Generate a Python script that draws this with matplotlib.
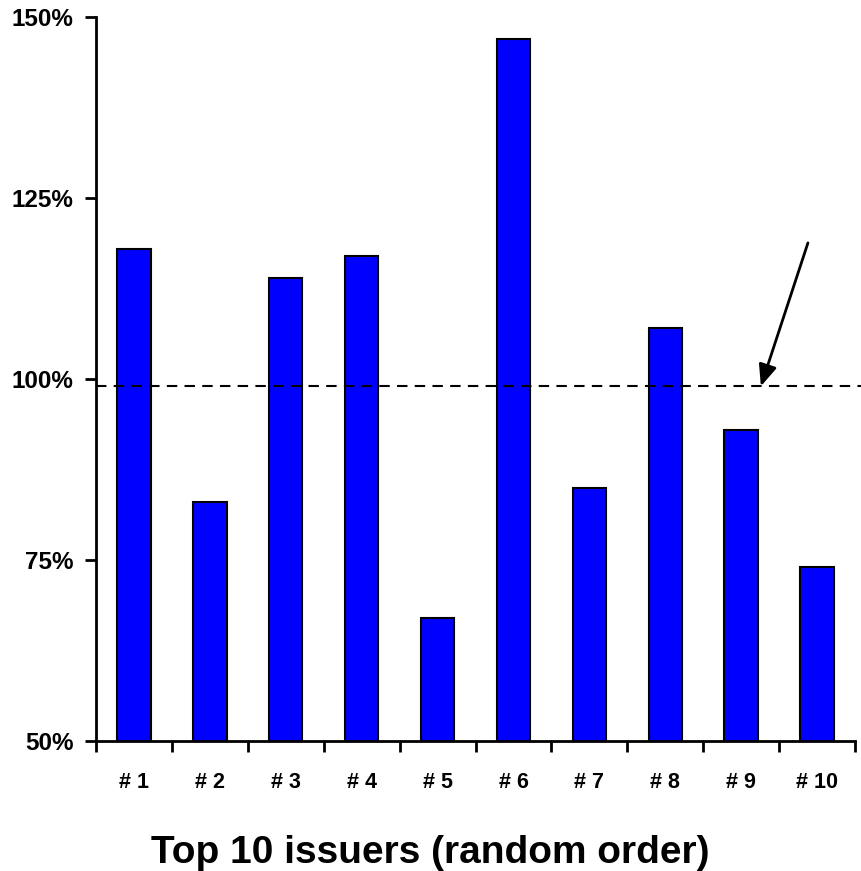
import numpy as np
import matplotlib.pyplot as plt

plt.rcParams['font.family'] = ['Liberation Sans', 'DejaVu Sans']

kategorier = ['# 1', '# 2', '# 3', '# 4', '# 5', '# 6', '# 7', '# 8', '# 9', '# 10']
verdier = [118, 83, 114, 117, 67, 147, 85, 107, 93, 74]   # [%]
nivaa = 99        # [%] stiplet linje
y_ticks = [50, 75, 100, 125, 150]

fig = plt.figure(figsize=(8.61, 8.71), dpi=100)
ax = fig.add_axes([96/861, 1-741/871, (855-96)/861, (741-17)/871])

x = np.arange(len(kategorier))
ax.bar(x, verdier, width=0.44, bottom=0, color='#0000ff', edgecolor='black', linewidth=1.5, zorder=2)

ax.set_xlim(-0.5, len(kategorier)-0.5)
ax.set_ylim(50, 150)

ax.axhline(nivaa, xmin=0, xmax=1.01, color='black', ls=(0, (5, 3.5)), lw=1.5, clip_on=False, zorder=3)
ax.annotate('', xy=(8.26, nivaa), xytext=(8.88, 118.8),
            arrowprops=dict(arrowstyle='-|>,head_length=1.3,head_width=0.55', color='black', lw=2,
                            shrinkA=0, shrinkB=0))

for s in ['top', 'right']:
    ax.spines[s].set_visible(False)
for s in ['left', 'bottom']:
    ax.spines[s].set_linewidth(2)

ax.set_yticks(y_ticks)
ax.set_yticklabels([f'{v}%' for v in y_ticks], fontsize=17.5, fontweight='bold')
ax.tick_params(axis='y', direction='out', length=8, width=2, pad=8)

ax.set_xticks(x)
ax.set_xticklabels(kategorier, fontsize=15.5, fontweight='bold')
ax.tick_params(axis='x', which='major', length=0, pad=22)
ax.set_xticks(np.arange(-0.5, len(kategorier)), minor=True)
ax.tick_params(axis='x', which='minor', direction='out', length=8, width=2)

fig.text(0.5, 1-863/871, 'Top 10 issuers (random order)', ha='center', va='baseline',
         fontsize=28, fontweight='bold')

plt.savefig('out.png', dpi=100)
